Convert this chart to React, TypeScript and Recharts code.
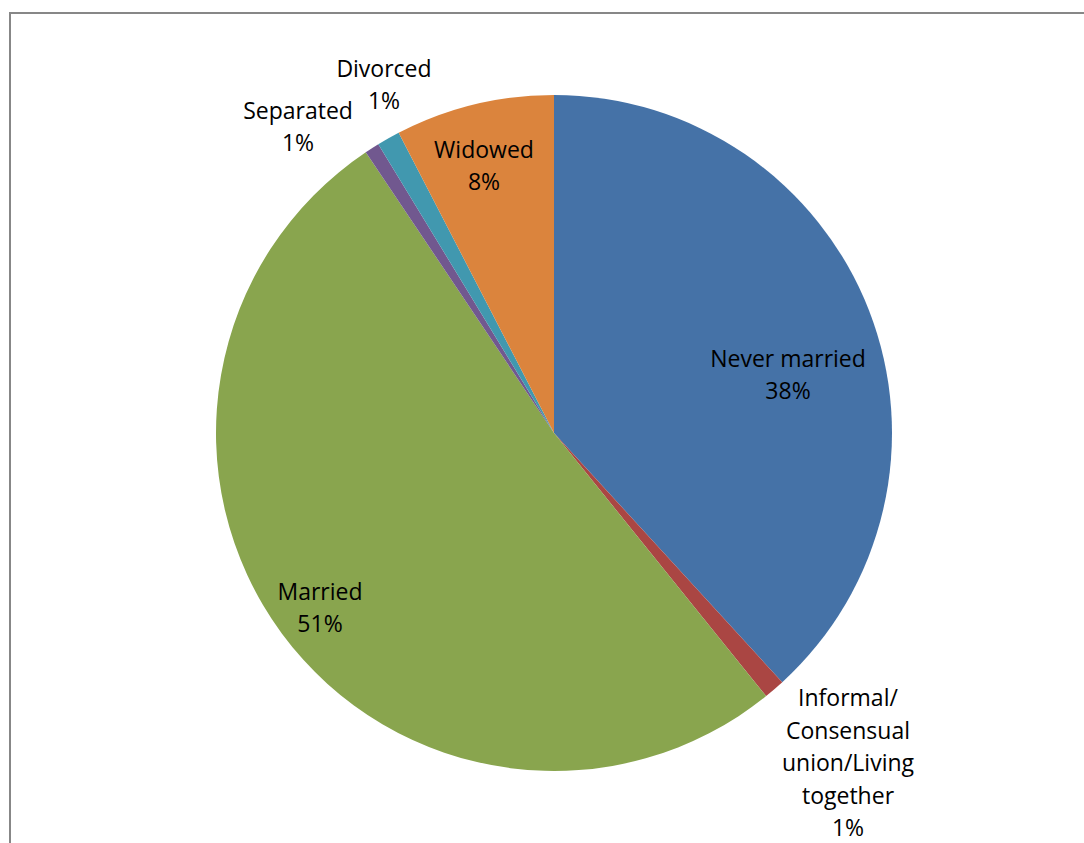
import React from "react";
import { PieChart, Pie, Cell } from "recharts";

// Marital status share (percent)
const categories = [
  "Never married",
  "Informal/ Consensual union/Living together",
  "Married",
  "Separated",
  "Divorced",
  "Widowed",
];
const shares = [38.2, 1.0, 51.4, 0.7, 1.1, 7.6];
const labelLines = [
  ["Never married"],
  ["Informal/", "Consensual", "union/Living", "together"],
  ["Married"],
  ["Separated"],
  ["Divorced"],
  ["Widowed"],
];

const COLORS = ["#4572A7", "#AA4643", "#89A54E", "#71588F", "#4198AF", "#DB843D"];

// label block centres, offset from the pie centre
const LABEL_OFFSETS: [number, number][] = [
  [234, -59],
  [294, 329],
  [-234, 174],
  [-256, -307],
  [-170, -349],
  [-70, -268],
];

const LINE_H = 32.5;
const FONT = "'Open Sans', Lato, sans-serif";

const data = categories.map((name, i) => ({ name, value: shares[i] }));

function renderLabel(props: any) {
  const { cx, cy, index, percent } = props;
  const lines = [...labelLines[index], `${Math.round(percent * 100)}%`];
  const [dx, dy] = LABEL_OFFSETS[index];
  const x = cx + dx;
  const y0 = cy + dy - ((lines.length - 1) * LINE_H) / 2;
  return (
    <text
      x={x}
      y={y0}
      textAnchor="middle"
      dominantBaseline="central"
      fill="#000"
      style={{ fontFamily: FONT, fontSize: 23 }}
    >
      {lines.map((l, i) => (
        <tspan key={i} x={x} y={y0 + i * LINE_H}>
          {l}
        </tspan>
      ))}
    </text>
  );
}

export default function App() {
  return (
    <div style={{ position: "fixed", left: 0, top: 0, width: 1084, height: 843, background: "#fff", overflow: "hidden" }}>
      <div
        style={{
          position: "absolute",
          left: 9,
          top: 12,
          width: 1200,
          height: 1000,
          borderTop: "2px solid #878787",
          borderLeft: "2px solid #878787",
        }}
      />
      <div style={{ position: "absolute", left: 0, top: 0 }}>
        <PieChart width={1084} height={843} margin={{ top: 0, right: 0, bottom: 0, left: 0 }}>
          <Pie
            data={data}
            dataKey="value"
            nameKey="name"
            cx={554}
            cy={433}
            outerRadius={338}
            startAngle={90}
            endAngle={-270}
            stroke="none"
            label={renderLabel}
            labelLine={false}
            isAnimationActive={false}
          >
            {data.map((d, i) => (
              <Cell key={d.name} fill={COLORS[i]} />
            ))}
          </Pie>
        </PieChart>
      </div>
    </div>
  );
}
